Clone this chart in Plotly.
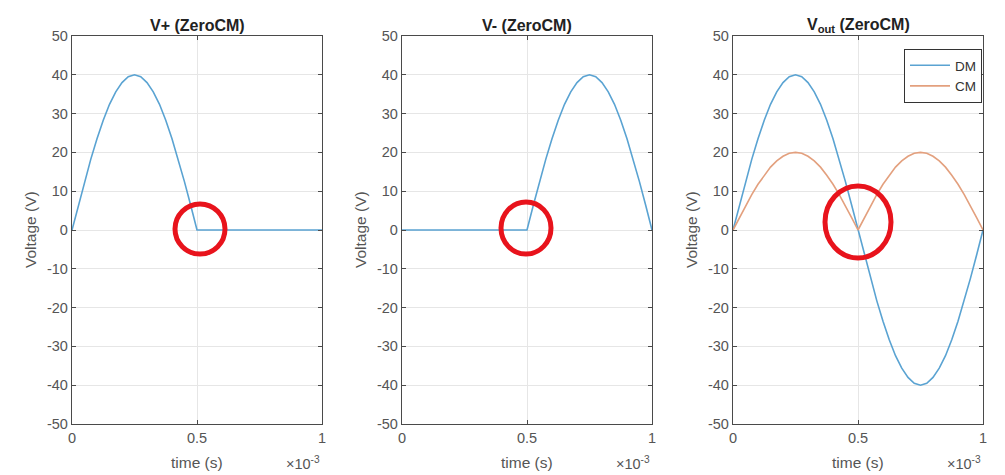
import plotly.graph_objects as go

# time in ms (axis shows x10^-3 s)
time_ms = [0, 0.025, 0.05, 0.075, 0.1, 0.125, 0.15, 0.175, 0.2, 0.225, 0.25,
           0.275, 0.3, 0.325, 0.35, 0.375, 0.4, 0.425, 0.45, 0.475, 0.5,
           0.525, 0.55, 0.575, 0.6, 0.625, 0.65, 0.675, 0.7, 0.725, 0.75,
           0.775, 0.8, 0.825, 0.85, 0.875, 0.9, 0.925, 0.95, 0.975, 1.0]

v_plus = [0, 6.3, 12.4, 18.2, 23.5, 28.3, 32.4, 35.6, 38.0, 39.5, 40,
          39.5, 38.0, 35.6, 32.4, 28.3, 23.5, 18.2, 12.4, 6.3, 0,
          0, 0, 0, 0, 0, 0, 0, 0, 0, 0,
          0, 0, 0, 0, 0, 0, 0, 0, 0, 0]

v_minus = [0, 0, 0, 0, 0, 0, 0, 0, 0, 0, 0,
           0, 0, 0, 0, 0, 0, 0, 0, 0, 0,
           6.3, 12.4, 18.2, 23.5, 28.3, 32.4, 35.6, 38.0, 39.5, 40,
           39.5, 38.0, 35.6, 32.4, 28.3, 23.5, 18.2, 12.4, 6.3, 0]

v_dm = [0, 6.3, 12.4, 18.2, 23.5, 28.3, 32.4, 35.6, 38.0, 39.5, 40,
        39.5, 38.0, 35.6, 32.4, 28.3, 23.5, 18.2, 12.4, 6.3, 0,
        -6.3, -12.4, -18.2, -23.5, -28.3, -32.4, -35.6, -38.0, -39.5, -40,
        -39.5, -38.0, -35.6, -32.4, -28.3, -23.5, -18.2, -12.4, -6.3, 0]

v_cm = [0, 3.1, 6.2, 9.1, 11.8, 14.1, 16.2, 17.8, 19.0, 19.8, 20,
        19.8, 19.0, 17.8, 16.2, 14.1, 11.8, 9.1, 6.2, 3.1, 0,
        3.1, 6.2, 9.1, 11.8, 14.1, 16.2, 17.8, 19.0, 19.8, 20,
        19.8, 19.0, 17.8, 16.2, 14.1, 11.8, 9.1, 6.2, 3.1, 0]

titles = ["<b>V+ (ZeroCM)</b>", "<b>V- (ZeroCM)</b>", "<b>V<sub>out</sub> (ZeroCM)</b>"]
x_ticks = [0, 0.5, 1]
x_ticklabels = ["0", "0.5", "1"]
y_ticks = [-50, -40, -30, -20, -10, 0, 10, 20, 30, 40, 50]
y_ticklabels = ["-50", "-40", "-30", "-20", "-10", "0", "10", "20", "30", "40", "50"]

# the page body adds an 8px margin, so the figure is drawn 8px in from the window edge
OFF = 8
W, H = 1005 - OFF, 475 - OFF
BLUE = "#5aa3d2"
ORANGE = "#e3a07e"
FONT = "Liberation Sans, Arial, sans-serif"


def px(p):
    return (p - OFF) / W


def py(p):
    return 1 - (p - OFF) / H


# window-pixel extents of the three plot areas
xdoms_px = [(72, 322), (402, 652), (733, 983)]
y_top_px, y_bot_px = 36, 424

fig = go.Figure()

fig.add_trace(go.Scatter(x=time_ms, y=v_plus, mode="lines", line=dict(color=BLUE, width=1.6),
                         xaxis="x", yaxis="y", showlegend=False))
fig.add_trace(go.Scatter(x=time_ms, y=v_minus, mode="lines", line=dict(color=BLUE, width=1.6),
                         xaxis="x2", yaxis="y2", showlegend=False))
fig.add_trace(go.Scatter(x=time_ms, y=v_dm, mode="lines", name="DM", line=dict(color=BLUE, width=1.6),
                         xaxis="x3", yaxis="y3"))
fig.add_trace(go.Scatter(x=time_ms, y=v_cm, mode="lines", name="CM", line=dict(color=ORANGE, width=1.6),
                         xaxis="x3", yaxis="y3"))

ydom = [py(y_bot_px), py(y_top_px)]
axis_common = dict(showline=True, mirror="ticks", linecolor="#4a4a4a", linewidth=1.3,
                   ticks="inside", ticklen=4, tickcolor="#4a4a4a", showgrid=True,
                   gridcolor="#e6e6e6", gridwidth=1, zeroline=False, automargin=False,
                   tickfont=dict(family=FONT, size=14.5, color="#555555"))

layout = dict(width=W, height=H, margin=dict(l=0, r=0, t=0, b=0, autoexpand=False),
              paper_bgcolor="white", plot_bgcolor="white",
              font=dict(family=FONT, color="#333333"),
              legend=dict(x=px(982), y=py(49), xanchor="right", yanchor="top",
                          bordercolor="#333333", borderwidth=1, bgcolor="white",
                          font=dict(family=FONT, size=13.5, color="#333333"),
                          tracegroupgap=0, itemwidth=40))

annotations = []
for i, (x0, x1) in enumerate(xdoms_px):
    sfx = "" if i == 0 else str(i + 1)
    xdom = [px(x0), px(x1)]
    layout["xaxis" + sfx] = dict(domain=xdom, range=[0, 1], tickvals=x_ticks, ticktext=x_ticklabels,
                                 anchor="y" + sfx, **axis_common)
    layout["yaxis" + sfx] = dict(domain=ydom, range=[-50, 50], tickvals=y_ticks, ticktext=y_ticklabels,
                                 anchor="x" + sfx, **axis_common)
    cx = px((x0 + x1) / 2)
    annotations.append(dict(text=titles[i], x=cx, y=py(25), xref="paper", yref="paper",
                            showarrow=False, font=dict(family=FONT, size=16, color="#222222"),
                            xanchor="center", yanchor="middle"))
    annotations.append(dict(text="time (s)", x=cx, y=py(462), xref="paper", yref="paper",
                            showarrow=False, font=dict(family=FONT, size=15.5, color="#555555"),
                            xanchor="center", yanchor="middle"))
    annotations.append(dict(text="×10<sup>-3</sup>", x=px(x1), y=py(463), xref="paper", yref="paper",
                            showarrow=False, font=dict(family=FONT, size=14.5, color="#555555"),
                            xanchor="right", yanchor="middle"))
    annotations.append(dict(text="Voltage (V)", x=px(x0 - 42), y=(ydom[0] + ydom[1]) / 2,
                            xref="paper", yref="paper", textangle=-90, showarrow=False,
                            font=dict(family=FONT, size=15.5, color="#555555"),
                            xanchor="center", yanchor="middle"))

layout["annotations"] = annotations

# red highlight circles (window-pixel centres / radii)
circles = [(200, 229, 25, 25), (526, 228, 25, 26), (858, 222, 33, 36)]
shapes = []
for ccx, ccy, rx, ry in circles:
    shapes.append(dict(type="circle", xref="paper", yref="paper",
                       x0=px(ccx - rx), x1=px(ccx + rx),
                       y0=py(ccy + ry), y1=py(ccy - ry),
                       line=dict(color="#e8131c", width=5)))
layout["shapes"] = shapes

fig.update_layout(**layout)
fig.write_html("out.html")
